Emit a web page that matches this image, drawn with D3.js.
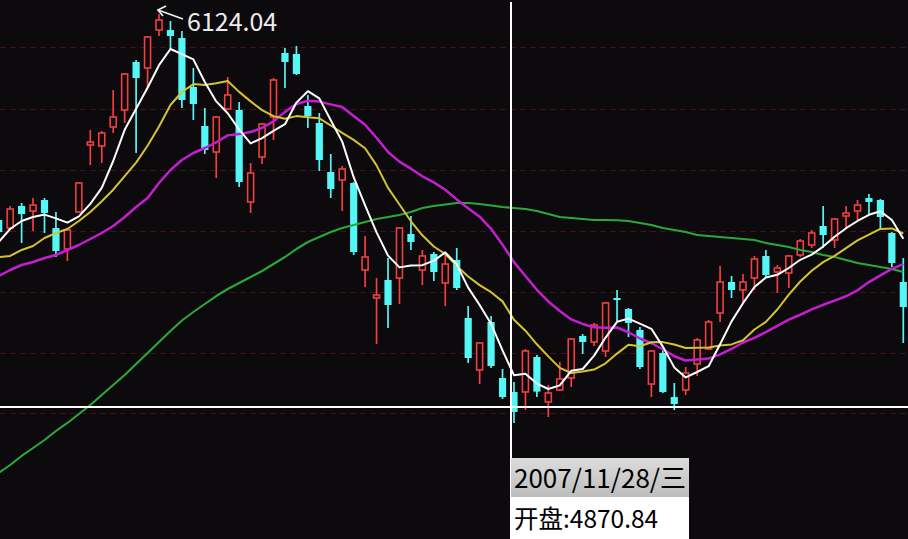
<!DOCTYPE html>
<html><head><meta charset="utf-8">
<script src="https://cdn.jsdelivr.net/npm/d3@7"></script>
<style>html,body{margin:0;padding:0;background:#0c0a0c;overflow:hidden}svg{display:block}</style>
</head><body>
<svg id="chart" width="908" height="539"></svg>
<script>
const dates = ["2007/09/19","2007/09/20","2007/09/21","2007/09/24","2007/09/25","2007/09/26","2007/09/27","2007/09/28","2007/10/08","2007/10/09",
"2007/10/10","2007/10/11","2007/10/12","2007/10/15","2007/10/16","2007/10/17","2007/10/18","2007/10/19","2007/10/22","2007/10/23",
"2007/10/24","2007/10/25","2007/10/26","2007/10/29","2007/10/30","2007/10/31","2007/11/01","2007/11/02","2007/11/05","2007/11/06",
"2007/11/07","2007/11/08","2007/11/09","2007/11/12","2007/11/13","2007/11/14","2007/11/15","2007/11/16","2007/11/19","2007/11/20",
"2007/11/21","2007/11/22","2007/11/23","2007/11/26","2007/11/27","2007/11/28","2007/11/29","2007/11/30","2007/12/03","2007/12/04",
"2007/12/05","2007/12/06","2007/12/07","2007/12/10","2007/12/11","2007/12/12","2007/12/13","2007/12/14","2007/12/17","2007/12/18",
"2007/12/19","2007/12/20","2007/12/21","2007/12/24","2007/12/25","2007/12/26","2007/12/27","2007/12/28","2008/01/02","2008/01/03",
"2008/01/04","2008/01/07","2008/01/08","2008/01/09","2008/01/10","2008/01/11","2008/01/14","2008/01/15","2008/01/16","2008/01/17"];

const open = [5441.0,5414.5,5487.4,5470.8,5507.3,5414.5,5344.9,5467.5,5689.6,5686.3,
5749.3,5805.7,5964.8,5944.9,6070.9,6070.9,6044.3,5881.9,5752.6,5666.4,
5809.0,5805.7,5500.7,5649.8,5782.4,5994.6,5991.3,5818.9,5762.6,5600.1,
5573.6,5563.7,5275.3,5182.4,5242.1,5248.7,5394.6,5275.3,5328.3,5232.2,
5308.4,5116.1,4943.8,5102.9,4917.2,4870.84,4871.0,4986.8,4837.7,4877.5,
4917.2,5056.5,5036.6,5006.7,5182.4,5146.0,5076.4,4897.3,5000.1,4854.2,
4877.5,4963.6,5013.4,5132.7,5235.5,5209.0,5248.7,5321.7,5268.6,5265.3,
5325.0,5358.1,5421.1,5374.7,5454.3,5470.8,5513.9,5507.3,5397.9,5235.5];

const high = [5447.6,5487.4,5497.4,5513.9,5513.9,5467.5,5414.5,5567.0,5739.4,5736.0,
5872.0,5928.3,5971.4,6051.0,6124.04,6100.7,6067.5,5944.9,5812.3,5785.8,
5915.0,5832.2,5630.0,5762.6,5911.7,6011.2,6017.8,5855.4,5795.7,5659.8,
5620.0,5567.0,5388.0,5248.7,5315.0,5417.8,5454.3,5341.6,5334.9,5334.9,
5348.2,5155.9,5036.6,5122.8,4947.1,4904.0,5013.4,4993.5,4894.0,4970.3,
5049.8,5063.1,5099.6,5169.2,5209.0,5149.3,5086.3,5010.1,5010.1,4900.7,
4953.7,5049.8,5109.5,5288.5,5255.4,5262.0,5321.7,5341.6,5291.8,5325.0,
5378.0,5407.9,5487.4,5447.6,5487.4,5507.3,5527.2,5510.6,5401.2,5315.0];

const low = [5388.0,5407.9,5364.8,5404.5,5397.9,5318.3,5305.1,5464.2,5623.3,5630.0,
5729.4,5762.6,5663.1,5878.6,6051.0,6004.6,5812.3,5772.5,5659.8,5580.2,
5805.7,5550.4,5464.2,5626.6,5706.2,5878.6,5921.7,5746.0,5603.4,5513.9,
5470.8,5325.0,5218.9,5029.9,5083.0,5162.5,5341.6,5225.5,5238.8,5155.9,
5209.0,4967.0,4897.3,4950.4,4847.6,4768.1,4811.2,4854.2,4787.9,4874.1,
4887.4,4996.8,5023.3,4986.8,5099.6,5053.1,4947.1,4854.2,4867.5,4811.2,
4860.9,4923.9,5010.1,5102.9,5182.4,5169.2,5209.0,5252.0,5199.0,5215.6,
5318.3,5348.2,5348.2,5348.2,5411.2,5441.0,5457.6,5407.9,5285.2,5033.3];

const close = [5401.2,5477.5,5460.9,5490.7,5464.2,5338.2,5407.9,5563.7,5699.6,5729.4,
5782.4,5925.0,5911.7,6047.6,6104.0,6051.0,5838.8,5825.5,5673.1,5782.4,
5855.4,5567.0,5596.8,5759.2,5905.1,5964.8,5925.0,5785.8,5639.9,5543.8,
5610.1,5334.9,5318.3,5192.4,5159.2,5414.5,5368.1,5321.7,5268.6,5295.1,
5215.6,4983.5,5033.3,4957.0,4854.2,4804.5,5006.7,4872.0,4867.5,4913.9,
5046.5,5036.6,5092.9,5165.9,5175.8,5099.6,4953.7,5006.7,4870.8,4831.0,
4933.8,5043.2,5102.9,5235.5,5209.0,5235.5,5311.7,5258.7,5281.9,5321.7,
5371.4,5397.9,5391.3,5444.3,5464.2,5490.7,5500.7,5450.9,5298.5,5152.6];

const ma5 = [5368.1,5411.2,5437.7,5450.9,5458.9,5446.3,5432.4,5452.9,5494.7,5547.7,
5636.6,5740.0,5809.6,5879.2,5954.2,6007.9,5990.6,5973.4,5898.5,5834.2,
5795.0,5740.7,5694.9,5712.2,5736.7,5758.6,5830.2,5868.0,5844.1,5771.8,
5700.9,5582.9,5489.4,5399.9,5323.0,5283.9,5290.5,5291.2,5306.4,5333.6,
5293.8,5216.9,5159.2,5096.9,5008.7,4926.5,4931.2,4898.7,4880.8,4892.7,
4941.1,4947.1,4991.5,5051.2,5103.5,5114.1,5097.6,5080.3,5021.3,4952.4,
4919.2,4937.1,4956.3,5029.3,5104.9,5165.2,5218.9,5250.1,5259.3,5281.9,
5309.1,5326.3,5352.8,5385.3,5413.8,5437.7,5458.2,5470.2,5441.0,5378.7];

const ma10 = [5318.3,5321.7,5341.6,5354.8,5381.3,5397.9,5411.2,5437.7,5467.5,5503.3,
5541.4,5586.2,5631.3,5687.0,5751.0,5822.2,5865.3,5891.5,5888.9,5894.2,
5901.5,5865.7,5834.2,5805.3,5785.4,5776.8,5785.4,5781.5,5778.1,5754.3,
5729.7,5706.5,5678.7,5622.0,5547.4,5492.4,5436.7,5390.3,5353.2,5328.3,
5288.8,5253.7,5225.2,5201.7,5171.2,5110.2,5074.0,5029.0,4988.8,4950.7,
4933.8,4939.1,4945.1,4966.0,4998.1,5027.6,5022.3,5035.9,5036.2,5028.0,
5016.7,5017.3,5018.3,5025.3,5028.6,5042.2,5078.0,5103.2,5144.3,5193.4,
5237.1,5272.6,5301.4,5322.3,5347.9,5373.4,5392.3,5411.5,5413.2,5396.3];

const ma20 = [5255.4,5275.3,5291.8,5301.8,5315.0,5325.0,5341.6,5358.1,5378.0,5397.9,
5421.1,5450.9,5484.1,5513.9,5563.7,5606.8,5639.9,5663.1,5679.7,5698.7,
5721.5,5725.9,5732.7,5746.2,5768.2,5799.5,5825.4,5836.5,5833.5,5824.2,
5815.6,5786.1,5756.4,5713.7,5666.4,5634.6,5611.1,5585.9,5565.6,5541.3,
5509.3,5480.1,5451.9,5411.8,5359.3,5301.3,5255.4,5209.6,5171.0,5139.5,
5111.3,5096.4,5085.1,5083.8,5084.6,5068.9,5048.2,5032.4,5012.5,4989.3,
4975.2,4978.2,4981.7,4995.6,5013.4,5034.9,5050.2,5069.6,5090.3,5110.7,
5126.9,5145.0,5159.9,5173.8,5188.2,5207.8,5235.1,5257.4,5278.7,5294.8];

const ma60 = [4602.3,4628.8,4658.7,4685.2,4711.7,4741.5,4768.1,4797.9,4827.7,4860.9,
4894.0,4927.2,4963.6,5000.1,5036.6,5073.0,5107.8,5136.0,5162.5,5189.0,
5212.3,5232.2,5252.0,5271.9,5295.1,5318.3,5344.9,5368.1,5384.6,5401.2,
5414.5,5424.4,5434.4,5444.3,5450.9,5457.6,5467.5,5480.8,5487.4,5492.4,
5497.4,5497.4,5494.0,5489.1,5484.1,5480.8,5477.5,5470.8,5460.9,5450.9,
5447.6,5444.3,5441.0,5441.0,5440.0,5437.7,5431.1,5424.4,5414.5,5407.9,
5401.2,5391.3,5388.0,5384.6,5381.3,5378.0,5374.7,5364.8,5358.1,5351.5,
5341.6,5334.9,5325.0,5318.3,5308.4,5298.5,5291.8,5285.2,5278.6,5268.6];

const gridPrices = [6014, 5810, 5607, 5406, 5203, 5001, 4800];
const cursorIndex = 45;
const cursorPrice = 4821;
const weekdayNames = ["日","一","二","三","四","五","六"];
const openLabel = "开盘";

const W = 908, H = 539;
const BG = "#0c0a0c", RED = "#f23f3f", CYAN = "#54f6f6";
const FONT = "'Microsoft YaHei','Noto Sans CJK SC','Noto Sans',sans-serif";

const svg = d3.select("#chart");
const x = d3.scaleLinear().domain([0, dates.length - 1]).range([-1.3, 903.3]);
const y = d3.scaleLinear().domain([4383.5, 6170.3]).range([H, 0]);
const idx = d3.range(dates.length);

svg.append("rect").attr("width", W).attr("height", H).attr("fill", BG);

// grid lines
svg.append("g").selectAll("line").data(gridPrices).join("line")
  .attr("x1", 0).attr("x2", W)
  .attr("y1", d => Math.round(y(d)) + 0.5).attr("y2", d => Math.round(y(d)) + 0.5)
  .attr("stroke", "#401416").attr("stroke-width", 1).attr("stroke-dasharray", "6,4");

// candles
const cg = svg.append("g").selectAll("g").data(idx).join("g");
cg.each(function(i) {
  const g = d3.select(this);
  const cx = x(i);
  const up = close[i] >= open[i];
  const top = y(Math.max(open[i], close[i]));
  const bot = y(Math.min(open[i], close[i]));
  if (up) {
    g.append("line").attr("x1", cx).attr("x2", cx).attr("y1", y(high[i])).attr("y2", top)
      .attr("stroke", RED).attr("stroke-width", 1.7);
    g.append("line").attr("x1", cx).attr("x2", cx).attr("y1", bot).attr("y2", y(low[i]))
      .attr("stroke", RED).attr("stroke-width", 1.7);
    g.append("rect").attr("x", cx - 3).attr("y", top).attr("width", 6)
      .attr("height", Math.max(1, bot - top))
      .attr("fill", BG).attr("stroke", RED).attr("stroke-width", 1.6);
  } else {
    g.append("line").attr("x1", cx).attr("x2", cx).attr("y1", y(high[i])).attr("y2", y(low[i]))
      .attr("stroke", CYAN).attr("stroke-width", 1.7);
    g.append("rect").attr("x", cx - 3.6).attr("y", top).attr("width", 7.2)
      .attr("height", Math.max(1.5, bot - top)).attr("fill", CYAN);
  }
});

// moving averages
const lineGen = d3.line().x((d, i) => x(i)).y(d => y(d));
const maSeries = [
  {v: ma60, c: "#2aa83a", w: 2.1},
  {v: ma20, c: "#c41ed0", w: 2.5},
  {v: ma10, c: "#d4c434", w: 2},
  {v: ma5,  c: "#ffffff", w: 2}
];
svg.append("g").selectAll("path").data(maSeries).join("path")
  .attr("d", d => lineGen(d.v)).attr("fill", "none")
  .attr("stroke", d => d.c).attr("stroke-width", d => d.w)
  .attr("stroke-linejoin", "round");

// peak marker
const pi = d3.maxIndex(high);
const tipX = x(pi) - 1, tipY = y(high[pi]) - 4;
const ax = svg.append("g").attr("stroke", "#f0f0f0").attr("stroke-width", 1.7).attr("fill", "none");
ax.append("line").attr("x1", tipX).attr("y1", tipY).attr("x2", tipX + 25).attr("y2", tipY + 9);
ax.append("polyline").attr("points", `${tipX + 8},${tipY - 4} ${tipX},${tipY} ${tipX + 5},${tipY + 6}`);
svg.append("text").attr("x", tipX + 29).attr("y", tipY + 21)
  .attr("fill", "#ececec").attr("font-family", FONT).attr("font-size", 25)
  .text(high[pi].toFixed(2));

// crosshair
const vx = Math.round(x(cursorIndex)) - 3;
const hy = Math.round(y(cursorPrice));
svg.append("line").attr("x1", 0).attr("x2", W).attr("y1", hy).attr("y2", hy)
  .attr("stroke", "#ffffff").attr("stroke-width", 2);
svg.append("line").attr("x1", vx).attr("x2", vx).attr("y1", 2).attr("y2", H)
  .attr("stroke", "#ffffff").attr("stroke-width", 2);

// info box
const defs = svg.append("defs");
const grad = defs.append("linearGradient").attr("id", "gbox").attr("x1", 0).attr("y1", 0).attr("x2", 0).attr("y2", 1);
grad.append("stop").attr("offset", "0%").attr("stop-color", "#dcdcdc");
grad.append("stop").attr("offset", "100%").attr("stop-color", "#bdbdbd");
const boxW = 178;
svg.append("rect").attr("x", vx).attr("y", 458).attr("width", boxW).attr("height", 39).attr("fill", "url(#gbox)");
svg.append("rect").attr("x", vx).attr("y", 497).attr("width", boxW).attr("height", 42).attr("fill", "#ffffff");
const dp = dates[cursorIndex].split("/").map(Number);
const wd = weekdayNames[new Date(dp[0], dp[1] - 1, dp[2]).getDay()];
svg.append("text").attr("x", vx + 3).attr("y", 488)
  .attr("fill", "#000").attr("font-family", FONT).attr("font-size", 26)
  .text(`${dp[0]}/${dp[1]}/${dp[2]}/${wd}`);
svg.append("text").attr("x", vx + 3).attr("y", 528)
  .attr("fill", "#000").attr("font-family", FONT).attr("font-size", 24.5)
  .text(`${openLabel}:${open[cursorIndex].toFixed(2)}`);
</script>
</body></html>
